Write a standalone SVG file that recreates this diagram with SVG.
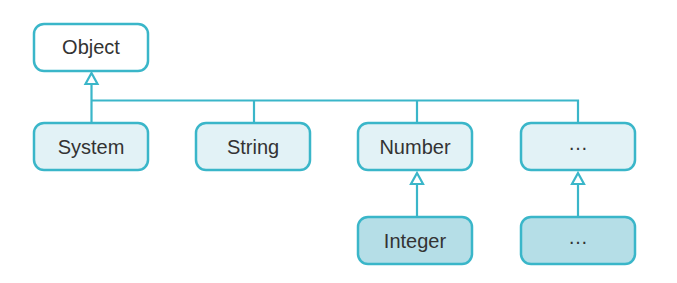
<svg xmlns="http://www.w3.org/2000/svg" width="677" height="283" viewBox="0 0 677 283">
<style>
.box{stroke:#3ab6c9;stroke-width:2.5}
.w{fill:#ffffff}.l{fill:#e2f2f6}.d{fill:#b5dee7}
.t{font-family:"Liberation Sans",Arial,sans-serif;font-size:20px;fill:#333333;text-anchor:middle;dominant-baseline:central}
.c{fill:none;stroke:#3ab6c9;stroke-width:2.2}
.a{fill:#ffffff;stroke:#3ab6c9;stroke-width:2.2;stroke-linejoin:miter}
</style>
<rect width="677" height="283" fill="#ffffff"/>
<g id="connectors">
<path class="c" d="M91.5 84V123M91.5 100.5H578V123M254 100.5V123M417 100.5V123"/>
<path class="c" d="M417 184V217M578 184V217"/>
<polygon class="a" points="91.5,73 85.5,84 97.5,84"/>
<polygon class="a" points="417,173 411,184 423,184"/>
<polygon class="a" points="578,173 572,184 584,184"/>
</g>
<g id="object"><rect class="box w" x="34" y="24" width="114" height="47" rx="10"/><text class="t" x="91" y="47">Object</text></g>
<g id="system"><rect class="box l" x="34" y="123" width="114" height="47" rx="10"/><text class="t" x="91" y="147">System</text></g>
<g id="string"><rect class="box l" x="196" y="123" width="114" height="47" rx="10"/><text class="t" x="253" y="147">String</text></g>
<g id="number"><rect class="box l" x="358" y="123" width="114" height="47" rx="10"/><text class="t" x="415" y="147">Number</text></g>
<g id="more1"><rect class="box l" x="521" y="123" width="114" height="47" rx="10"/><text class="t" x="578" y="143">…</text></g>
<g id="integer"><rect class="box d" x="358" y="217" width="114" height="47" rx="10"/><text class="t" x="415" y="241">Integer</text></g>
<g id="more2"><rect class="box d" x="521" y="217" width="114" height="47" rx="10"/><text class="t" x="578" y="237">…</text></g>
</svg>
